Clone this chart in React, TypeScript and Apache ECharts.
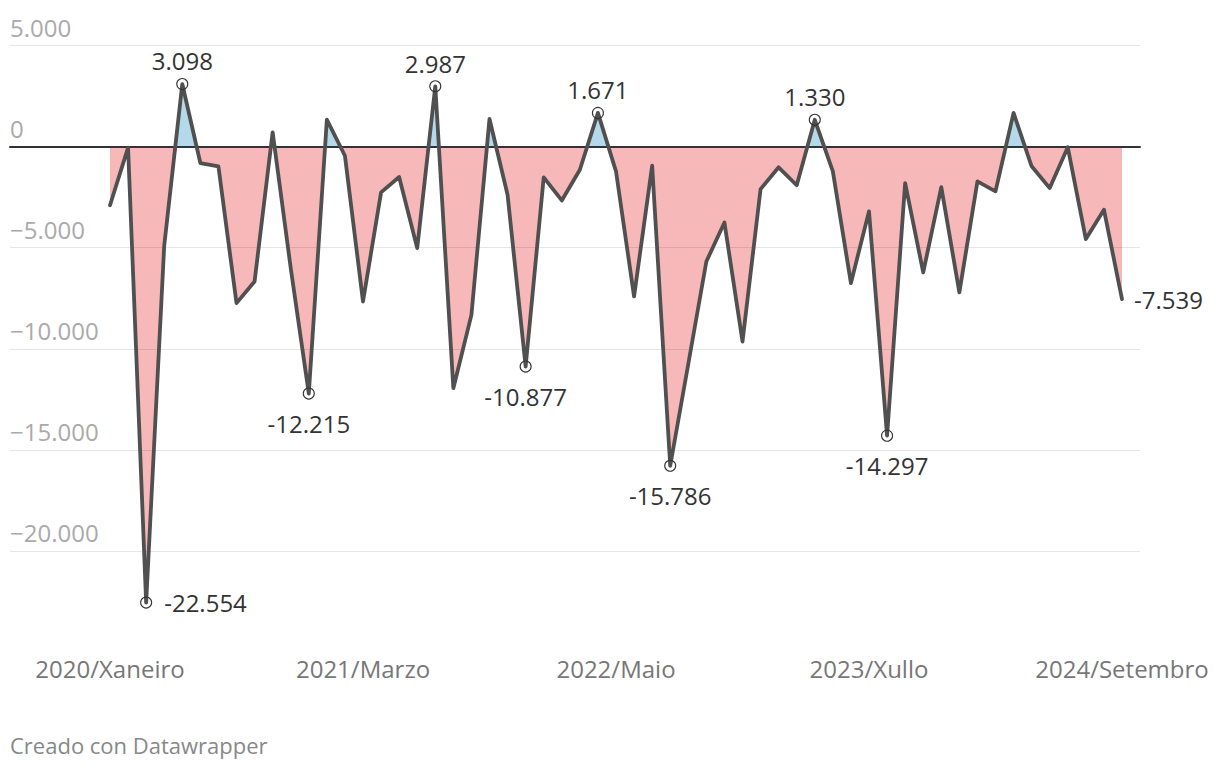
import React, { useEffect, useRef } from "react";
import * as echarts from "echarts";

const years = [2020, 2021, 2022, 2023, 2024];
const monthNames = ["Xaneiro", "Febreiro", "Marzo", "Abril", "Maio", "Xuño", "Xullo", "Agosto", "Setembro", "Outubro", "Novembro", "Decembro"];
const lastMonthIndex2024 = 8; // Setembro

const categories: string[] = [];
years.forEach((y) => {
  monthNames.forEach((m, i) => {
    if (y === 2024 && i > lastMonthIndex2024) return;
    categories.push(`${y}/${m}`);
  });
});

const values = [
  -2900, -50, -22554, -4900, 3098, -810, -980, -7740, -6670, 710, -6000, -12215,
  1340, -450, -7660, -2260, -1500, -5020, 2987, -11950, -8320, 1370, -2380, -10877,
  -1520, -2660, -1140, 1671, -1220, -7410, -940, -15786, -10750, -5680, -3750, -9640,
  -2100, -1020, -1910, 1330, -1220, -6750, -3200, -14297, -1800, -6220, -2000, -7210,
  -1720, -2210, 1670, -970, -2050, -30, -4570, -3120, -7539,
];

const yTicks = [-25000, -20000, -15000, -10000, -5000, 0, 5000];

const annotations: { index: number; position: string; distance: number }[] = [
  { index: 2, position: "right", distance: 12 },
  { index: 4, position: "top", distance: 5 },
  { index: 11, position: "bottom", distance: 11.5 },
  { index: 18, position: "top", distance: 5 },
  { index: 23, position: "bottom", distance: 11.5 },
  { index: 27, position: "top", distance: 5 },
  { index: 31, position: "bottom", distance: 11.5 },
  { index: 39, position: "top", distance: 5 },
  { index: 43, position: "bottom", distance: 11.5 },
];

const credit = "Creado con Datawrapper";

const FONT = "'Open Sans', 'Noto Sans', sans-serif";
const FS = 24;

function fmt(v: number, minus: string) {
  const s = Math.abs(Math.round(v)).toString().replace(/\B(?=(\d{3})+(?!\d))/g, ".");
  return (v < 0 ? minus : "") + s;
}

export default function App() {
  const ref = useRef<HTMLDivElement>(null);
  useEffect(() => {
    if (!ref.current) return;
    const chart = echarts.init(ref.current, null, { renderer: "svg" });
    const yMin = yTicks[0];
    const yMax = yTicks[yTicks.length - 1];
    const gridTop = 45.6;
    const gridBottom = 118;

    const lineData = values.map((v, i) => {
      const a = annotations.find((x) => x.index === i);
      if (!a) return v;
      return {
        value: v,
        symbol: "circle",
        symbolSize: 11,
        itemStyle: { color: "rgba(0,0,0,0)", borderColor: "#333", borderWidth: 1.1 },
        label: {
          show: true,
          position: a.position,
          distance: a.distance,
          formatter: () => fmt(v, "-"),
          color: "#333",
          fontFamily: FONT,
          fontSize: FS,
        },
      };
    });

    const option: any = {
      animation: false,
      backgroundColor: "#fff",
      grid: [
        { left: 10, right: 80, top: gridTop, bottom: gridBottom, outerBoundsMode: "none" },
        { left: 110, right: 98, top: gridTop, bottom: gridBottom, outerBoundsMode: "none" },
      ],
      xAxis: [
        {
          gridIndex: 0,
          type: "value",
          min: 0,
          max: 1,
          z: 2,
          axisLine: { show: true, onZero: true, lineStyle: { color: "#333", width: 2 } },
          axisTick: { show: false },
          axisLabel: { show: false },
          splitLine: { show: false },
        },
        {
          gridIndex: 1,
          type: "category",
          data: categories,
          boundaryGap: false,
          axisLine: { show: false },
          axisTick: { show: false },
          splitLine: { show: false },
          axisLabel: {
            interval: 13,
            margin: 4,
            color: "#777",
            fontFamily: FONT,
            fontSize: FS,
          },
        },
      ],
      yAxis: [
        {
          gridIndex: 0,
          type: "value",
          min: yMin,
          max: yMax,
          interval: 5000,
          z: 2,
          axisLine: { show: false },
          axisTick: { show: false },
          splitLine: { show: true, showMinLine: false, lineStyle: { color: "rgba(0,0,0,0.1)", width: 1.2 } },
          axisLabel: {
            inside: true,
            margin: 0,
            showMinLabel: false,
            verticalAlign: "bottom",
            padding: [0, 0, 6, 0],
            color: "#aaa",
            fontFamily: FONT,
            fontSize: FS,
            formatter: (v: number) => (v === 0 ? "0" : fmt(v, "\u2212")),
          },
        },
        {
          gridIndex: 1,
          type: "value",
          min: yMin,
          max: yMax,
          interval: 5000,
          show: false,
          splitLine: { show: false },
        },
      ],
      visualMap: {
        type: "piecewise",
        show: false,
        seriesIndex: 0,
        dimension: 1,
        pieces: [
          { gt: 0, lte: 1000000, color: "#b3d9eb" },
          { gt: -1000000, lte: 0, color: "#f7b8b9" },
        ],
      },
      series: [
        {
          type: "line",
          xAxisIndex: 1,
          yAxisIndex: 1,
          data: values,
          symbol: "none",
          z: 1,
          silent: true,
          lineStyle: { width: 0 },
          areaStyle: { opacity: 1 },
        },
        {
          type: "line",
          xAxisIndex: 1,
          yAxisIndex: 1,
          data: lineData,
          symbol: "none",
          showAllSymbol: true,
          z: 3,
          lineStyle: { color: "#505050", width: 3.8, join: "round", cap: "round" },
          itemStyle: { color: "#505050" },
          endLabel: {
            show: true,
            distance: 12,
            formatter: (p: any) => fmt(p.value, "-"),
            color: "#333",
            fontFamily: FONT,
            fontSize: FS,
          },
        },
      ],
      graphic: [
        {
          type: "text",
          left: 10,
          top: 734,
          style: { text: credit, fill: "#888", font: `22px ${FONT}` },
        },
      ],
    };
    chart.setOption(option);
    return () => chart.dispose();
  }, []);
  return (
    <div
      ref={ref}
      style={{ position: "absolute", left: 0, top: 0, width: 1220, height: 770 }}
    />
  );
}
